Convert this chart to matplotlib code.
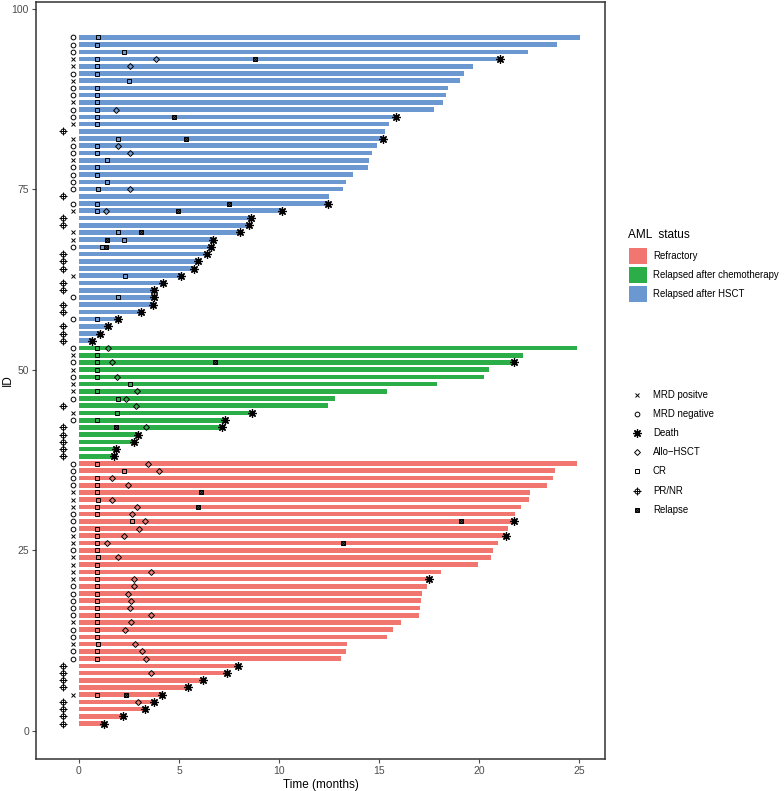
import numpy as np
import matplotlib.pyplot as plt
from matplotlib.patches import Rectangle

plt.rcParams["font.family"] = ["Liberation Sans", "DejaVu Sans"]

# ----------------------------------------------------------------
# Data: one row per patient, ID 1..96
# ----------------------------------------------------------------
bar_end = [
    # Refractory (ID 1-37)
    1.23, 2.21, 3.28, 3.74, 4.14, 5.43, 6.18, 7.42, 7.93, 13.1,
    13.35, 13.4, 15.4, 15.7, 16.1, 17.0, 17.05, 17.1, 17.15, 17.4,
    17.5, 18.1, 19.95, 20.6, 20.7, 20.95, 21.33, 21.47, 21.77, 21.8,
    22.08, 22.52, 22.55, 23.4, 23.7, 23.8, 24.9,
    # Relapsed after chemotherapy (ID 38-53)
    1.75, 1.83, 2.75, 2.97, 7.13, 7.3, 8.63, 12.43, 12.8, 15.38,
    17.88, 20.23, 20.5, 21.77, 22.2, 24.9,
    # Relapsed after HSCT (ID 54-96)
    0.63, 1.05, 1.43, 1.97, 3.1, 3.68, 3.77, 3.77, 4.22, 5.08,
    5.75, 5.97, 6.38, 6.6, 6.72, 8.05, 8.52, 8.58, 10.13, 12.43,
    12.5, 13.2, 13.35, 13.68, 14.43, 14.5, 14.67, 14.88, 15.18, 15.32,
    15.48, 15.83, 17.75, 18.18, 18.37, 18.43, 19.05, 19.25, 19.68, 21.03,
    22.47, 23.88, 25.05,
]
group = (["Refractory"] * 37
         + ["Relapsed after chemotherapy"] * 16
         + ["Relapsed after HSCT"] * 43)

# X = MRD positive, O = MRD negative, P = PR/NR
mrd = list(
    "PPPPXPPPPOOXOOXOOOOOXXXXOXXOOOXXXOOOO"      # 1-37
    "PPPPPOXPOXXOXOXO"                           # 38-53
    "PPPOPPOPPXPPPOXXPPXOPOOOOXOOXPXOOXOOXOXXOOO"  # 54-96
)

death_ids = [1, 2, 3, 4, 5, 6, 7, 8, 9, 21, 27, 29,
             38, 39, 40, 41, 42, 43, 44, 51,
             54, 55, 56, 57, 58, 59, 60, 61, 62, 63, 64, 65, 66, 67, 68,
             69, 70, 71, 72, 73, 82, 85, 93]

cr = [(5, 0.92), (10, 0.88), (11, 0.88), (12, 0.97), (13, 0.88),
      (14, 0.88), (15, 0.88), (16, 0.88), (17, 0.88), (18, 0.88),
      (19, 0.88), (20, 0.88), (21, 0.88), (22, 0.88), (23, 0.88),
      (24, 0.97), (25, 0.88), (26, 0.88), (27, 0.88), (28, 0.88),
      (29, 2.67), (30, 0.88), (31, 0.88), (32, 0.97), (33, 0.88),
      (34, 0.88), (35, 0.88), (36, 2.27), (37, 0.88),
      (43, 0.88), (44, 1.92), (46, 1.97), (47, 0.88), (48, 2.55),
      (49, 0.88), (50, 0.88), (51, 0.88), (52, 0.88), (53, 0.88),
      (57, 0.92), (60, 1.93), (63, 2.3), (67, 1.13), (68, 2.27),
      (69, 1.93), (72, 0.92), (73, 0.88), (75, 0.97), (76, 1.38),
      (77, 0.92), (78, 0.92), (79, 1.38), (80, 0.92), (81, 0.92),
      (82, 1.97), (84, 0.92), (85, 0.92), (86, 0.92), (87, 0.92),
      (88, 0.92), (89, 0.92), (90, 2.52), (91, 0.92), (92, 0.92),
      (93, 0.92), (94, 2.27), (95, 0.92), (96, 0.97)]

hsct = [(4, 2.97), (8, 3.6), (10, 3.33), (11, 3.13), (12, 2.8),
        (14, 2.3), (15, 2.58), (16, 3.58), (17, 2.55), (18, 2.58),
        (19, 2.47), (20, 2.77), (21, 2.77), (22, 3.58), (24, 1.97),
        (26, 1.42), (27, 2.27), (28, 3.02), (29, 3.3), (30, 2.67),
        (31, 2.92), (32, 1.63), (34, 2.43), (35, 1.67), (36, 4.0),
        (37, 3.43),
        (42, 3.33), (45, 2.83), (46, 2.35), (47, 2.88), (49, 1.88),
        (51, 1.67), (53, 1.47),
        (72, 1.33), (75, 2.55), (80, 2.55), (81, 1.97), (86, 1.85),
        (92, 2.55), (93, 3.83)]

relapse = [(5, 2.35), (26, 13.2), (29, 19.1), (31, 5.97), (33, 6.08),
           (42, 1.83), (51, 6.78),
           (67, 1.35), (68, 1.38), (69, 3.12), (72, 4.97), (73, 7.5),
           (82, 5.35), (85, 4.75), (93, 8.82)]

status_colors = {"Refractory": "#F0766F",
                 "Relapsed after chemotherapy": "#2BAE47",
                 "Relapsed after HSCT": "#6C98D2"}

# ----------------------------------------------------------------
# Plot
# ----------------------------------------------------------------
W, H = 784, 791
fig = plt.figure(figsize=(W / 100, H / 100), dpi=100)
ax = fig.add_axes([36 / W, 1 - 759 / H, (605 - 36) / W, (759 - 2) / H])

ids = np.arange(1, len(bar_end) + 1)
ax.barh(ids, bar_end, height=0.64, left=0,
        color=[status_colors[g] for g in group], zorder=1)

mrd = np.array(mrd)
pos = ids[mrd == "X"]
neg = ids[mrd == "O"]
prn = ids[mrd == "P"]
ax.plot(np.full(len(pos), -0.3), pos, ls="none", marker="x", ms=3.2,
        mew=0.7, color="black", zorder=3)
ax.plot(np.full(len(neg), -0.3), neg, ls="none", marker="o", ms=3.4,
        mew=0.7, mfc="none", mec="black", zorder=3)
ax.plot(np.full(len(prn), -0.8), prn, ls="none", marker="o", ms=3.6,
        mew=0.7, mfc="none", mec="black", zorder=3)
ax.plot(np.full(len(prn), -0.8), prn, ls="none", marker="+", ms=5.2,
        mew=0.7, color="black", zorder=3)

cr_id, cr_t = zip(*cr)
ax.plot(cr_t, cr_id, ls="none", marker="s", ms=3.0, mew=0.7,
        mfc="none", mec="black", zorder=4)

h_id, h_t = zip(*hsct)
ax.plot(h_t, h_id, ls="none", marker="D", ms=3.0, mew=0.7,
        mfc="none", mec="black", zorder=4)

r_id, r_t = zip(*relapse)
ax.plot(r_t, r_id, ls="none", marker="s", ms=3.4, mew=0.7,
        mfc="#777777", mec="black", zorder=4)
ax.plot(r_t, r_id, ls="none", marker="x", ms=3.0, mew=0.7,
        color="black", zorder=5)

d_t = [bar_end[i - 1] for i in death_ids]
ax.plot(d_t, death_ids, ls="none", marker=(8, 2, 0), ms=6.0, mew=0.9,
        color="black", zorder=5)

ax.set_xlim(-2.15, 26.3)
ax.set_ylim(-3.9, 100.9)
ax.set_xticks([0, 5, 10, 15, 20, 25])
ax.set_yticks([0, 25, 50, 75, 100])
ax.tick_params(labelsize=7.5, colors="#4D4D4D", length=3, width=0.8,
               pad=2)
for s in ax.spines.values():
    s.set_color("#333333")
    s.set_linewidth(1.1)
ax.set_xlabel("Time (months)", fontsize=8.5)
ax.set_ylabel("ID", fontsize=8.5)
ax.xaxis.set_label_coords(0.5, -(779 - 759) / (759 - 2))
ax.yaxis.set_label_coords(-(36 - 14) / (605 - 36), 0.5)

# ----------------------------------------------------------------
# Legends (drawn in pixel space on an overlay axes)
# ----------------------------------------------------------------
lax = fig.add_axes([0, 0, 1, 1])
lax.set_xlim(0, W)
lax.set_ylim(H, 0)
lax.axis("off")

lax.text(628, 235, "AML  status", fontsize=8.5, va="center", ha="left")
for k, (name, col) in enumerate(status_colors.items()):
    yc = 256 + k * 19.2
    lax.add_patch(Rectangle((629, yc - 8), 18, 16, color=col, lw=0))
    lax.text(653, yc, name, fontsize=6.9, va="center", ha="left")

labels = ["MRD positve", "MRD negative", "Death", "Allo\u2212HSCT", "CR",
          "PR/NR", "Relapse"]
xs = 637
for k, lab in enumerate(labels):
    yc = 394.5 + k * 19.2
    lax.text(653, yc, lab, fontsize=6.9, va="center", ha="left")
    if lab == "MRD positve":
        lax.plot(xs, yc, marker="x", ms=3.2, mew=0.7, color="black")
    elif lab == "MRD negative":
        lax.plot(xs, yc, marker="o", ms=3.4, mew=0.7, mfc="none",
                 mec="black")
    elif lab == "Death":
        lax.plot(xs, yc, marker=(8, 2, 0), ms=6.0, mew=0.9, color="black")
    elif lab == "Allo\u2212HSCT":
        lax.plot(xs, yc, marker="D", ms=3.0, mew=0.7, mfc="none",
                 mec="black")
    elif lab == "CR":
        lax.plot(xs, yc, marker="s", ms=3.0, mew=0.7, mfc="none",
                 mec="black")
    elif lab == "PR/NR":
        lax.plot(xs, yc, marker="o", ms=3.6, mew=0.7, mfc="none",
                 mec="black")
        lax.plot(xs, yc, marker="+", ms=5.2, mew=0.7, color="black")
    else:
        lax.plot(xs, yc, marker="s", ms=3.4, mew=0.7, mfc="#777777",
                 mec="black")
        lax.plot(xs, yc, marker="x", ms=3.0, mew=0.7, color="black")

fig.savefig("out.png", dpi=100)
